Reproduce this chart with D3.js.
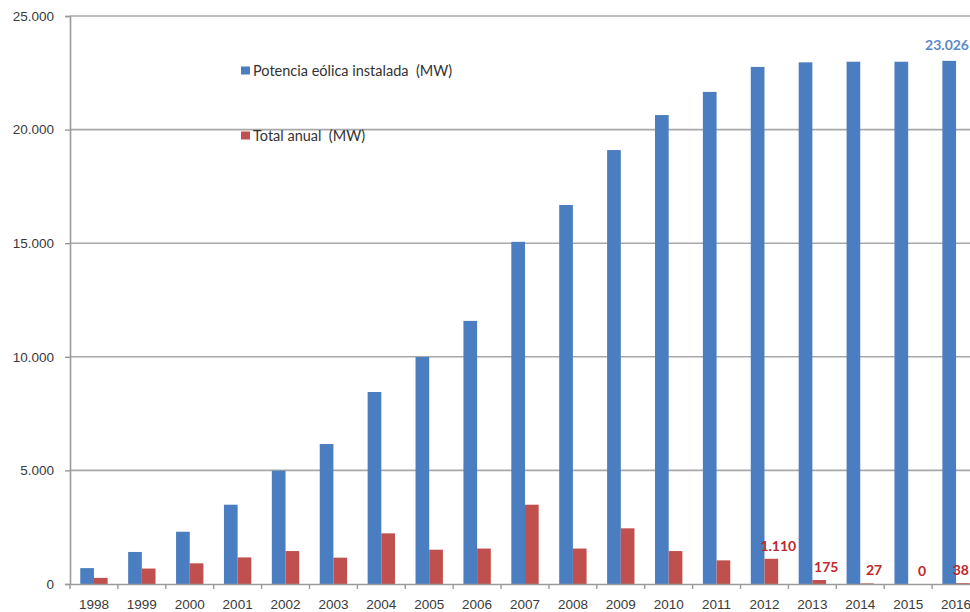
<!DOCTYPE html>
<html>
<head>
<meta charset="utf-8">
<script src="https://cdn.jsdelivr.net/npm/d3@7"></script>
<style>
  html, body { margin: 0; padding: 0; background: #fff; }
  svg { display: block; font-family: Lato, "Open Sans", "Liberation Sans", sans-serif; }
</style>
</head>
<body>
<svg id="chart" width="970" height="612"></svg>
<script>
// Wind power in Spain: cumulative installed capacity and yearly additions (MW)
const years = ["1998","1999","2000","2001","2002","2003","2004","2005","2006","2007",
               "2008","2009","2010","2011","2012","2013","2014","2015","2016"];
const installed = [700, 1410, 2300, 3490, 4990, 6160, 8450, 9990, 11580, 15060,
                   16680, 19100, 20640, 21660, 22760, 22960, 22987, 22987, 23026];
const annual = [270, 680, 910, 1170, 1450, 1160, 2230, 1510, 1560, 3490,
                1560, 2450, 1450, 1040, 1110, 175, 27, 0, 38];
const seriesNames = ["Potencia eólica instalada  (MW)", "Total anual  (MW)"];
const yTicks = [0, 5000, 10000, 15000, 20000, 25000];
// Labelled points: [series index, year]
const labelled = [[0, "2016"], [1, "2012"], [1, "2013"], [1, "2014"], [1, "2015"], [1, "2016"]];

const colors = ["#4A7EC1", "#C0504D"];
const labelColors = ["#5A8ACB", "#C0282B"];

const W = 970;
const svg = d3.select("#chart");
const plotLeft = 70, plotRight = 980, plotTop = 16, plotBottom = 584;

const x = d3.scaleBand().domain(years).range([plotLeft, plotRight]).padding(0);
const xs = d3.scaleBand().domain([0, 1]).range([0, x.bandwidth()])
  .paddingInner(0).paddingOuter(0.75);
const y = d3.scaleLinear().domain([0, 25000]).range([plotBottom, plotTop]);

const loc = d3.formatLocale({ decimal: ",", thousands: ".", grouping: [3], currency: ["", ""] });
const fmt = loc.format(",");

// Horizontal gridlines
svg.append("g")
  .selectAll("line")
  .data(yTicks.filter(d => d > 0))
  .join("line")
  .attr("x1", plotLeft).attr("x2", W)
  .attr("y1", d => y(d)).attr("y2", d => y(d))
  .attr("stroke", "#a8a8a8").attr("stroke-width", 1.6);

// Y axis
const yAxis = svg.append("g")
  .attr("transform", `translate(${plotLeft},0)`)
  .call(d3.axisLeft(y).tickValues(yTicks).tickFormat(fmt).tickSize(5).tickPadding(11));
yAxis.select(".domain").attr("stroke", "#9a9a9a").attr("stroke-width", 1.6);
yAxis.selectAll(".tick line").attr("stroke", "#9a9a9a").attr("stroke-width", 1.4);
yAxis.selectAll("text").attr("fill", "#3a3a3a").attr("font-size", 13.5);

// Bars
const rows = years.map((yr, i) => ({ year: yr, values: [installed[i], annual[i]] }));
const groups = svg.append("g").selectAll("g")
  .data(rows)
  .join("g")
  .attr("transform", d => `translate(${x(d.year)},0)`);
groups.selectAll("rect")
  .data(d => d.values.map((v, s) => ({ s, v })))
  .join("rect")
  .attr("x", d => xs(d.s))
  .attr("width", xs.bandwidth())
  .attr("y", d => y(d.v))
  .attr("height", d => y(0) - y(d.v))
  .attr("fill", d => colors[d.s]);

// X axis
const xAxis = svg.append("g")
  .attr("transform", `translate(0,${plotBottom})`)
  .call(d3.axisBottom(x).tickSize(0).tickPadding(15));
xAxis.select(".domain").attr("stroke", "#9a9a9a").attr("stroke-width", 1.6);
xAxis.selectAll("text").attr("fill", "#3a3a3a").attr("font-size", 13.5);
// category boundary tick marks
svg.append("g").selectAll("line")
  .data(years)
  .join("line")
  .attr("x1", d => x(d)).attr("x2", d => x(d))
  .attr("y1", plotBottom).attr("y2", plotBottom + 5)
  .attr("stroke", "#9a9a9a").attr("stroke-width", 1.4);

// Value labels (kept inside the drawing area at the right edge)
const series = [installed, annual];
svg.append("g").selectAll("text")
  .data(labelled)
  .join("text")
  .attr("x", ([s, yr]) => x(yr) + xs(s) + xs.bandwidth() / 2 + (s === 1 ? 7 : 0))
  .attr("y", ([s, yr]) => y(series[s][years.indexOf(yr)]) - (s === 1 ? 13 : 16))
  .attr("dy", "0.35em")
  .attr("text-anchor", "middle")
  .attr("font-size", 14)
  .attr("font-weight", "bold")
  .attr("fill", ([s]) => labelColors[s])
  .text(([s, yr]) => fmt(series[s][years.indexOf(yr)]))
  .each(function () {
    const b = this.getBBox();
    const over = b.x + b.width - (W - 1);
    if (over > 0) d3.select(this).attr("x", +d3.select(this).attr("x") - over);
  });

// Legend
const legend = svg.append("g").selectAll("g")
  .data(seriesNames)
  .join("g")
  .attr("transform", (d, i) => `translate(241,${70.5 + i * 65})`);
legend.append("rect")
  .attr("x", 0).attr("y", -4).attr("width", 9).attr("height", 8)
  .attr("fill", (d, i) => colors[i]);
legend.append("text")
  .attr("x", 12).attr("dy", "0.35em")
  .attr("font-size", 14.5).attr("fill", "#333")
  .style("white-space", "pre")
  .text(d => d);
</script>
</body>
</html>
